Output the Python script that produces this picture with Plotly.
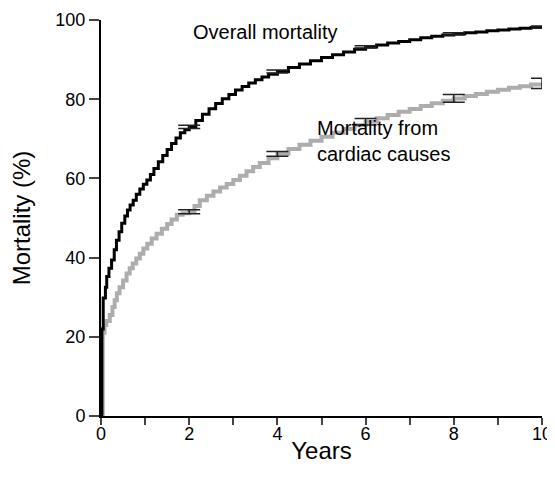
import plotly.graph_objects as go

# Kaplan-Meier style cumulative mortality (%)
overall_years = [0, 0.02, 0.05, 0.10, 0.13, 0.18, 0.24, 0.30, 0.35, 0.41, 0.47, 0.54,
                 0.60, 0.66, 0.73, 0.80, 0.88, 0.96, 1.04, 1.12, 1.20, 1.30, 1.40, 1.50,
                 1.60, 1.70, 1.80, 1.90, 2.00, 2.15, 2.30, 2.45, 2.60, 2.75, 2.90, 3.05,
                 3.20, 3.35, 3.50, 3.65, 3.80, 4.00, 4.25, 4.50, 4.75, 5.00, 5.25, 5.50,
                 5.75, 6.00, 6.25, 6.50, 6.75, 7.00, 7.25, 7.50, 7.75, 8.00, 8.25, 8.50,
                 8.75, 9.00, 9.25, 9.50, 9.75, 10.00]
overall_mort = [0, 22, 29.8, 32.5, 35.2, 37.3, 39.4, 42, 44.4, 46.5, 48.7, 50.5,
                52, 53.3, 54.5, 56, 57.3, 58.5, 59.6, 61, 62.5, 64.2, 65.8, 67.3,
                68.8, 70.2, 71.5, 72.3, 73, 74.6, 76.2, 77.6, 78.9, 80.1, 81.2, 82.3,
                83.2, 84.1, 84.9, 85.6, 86.3, 87, 88, 88.9, 89.7, 90.5, 91.2, 91.9,
                92.6, 93.2, 93.7, 94.2, 94.6, 95, 95.5, 95.9, 96.2, 96.5, 96.8, 97.0,
                97.3, 97.5, 97.7, 97.9, 98.1, 98.2]

cardiac_years = [0, 0.04, 0.08, 0.12, 0.20, 0.26, 0.31, 0.36, 0.42, 0.50, 0.58, 0.65,
                 0.72, 0.80, 0.88, 0.96, 1.05, 1.15, 1.26, 1.38, 1.50, 1.60, 1.72, 1.85,
                 2.00, 2.12, 2.24, 2.40, 2.55, 2.70, 2.85, 3.00, 3.15, 3.30, 3.45, 3.60,
                 3.80, 4.00, 4.25, 4.50, 4.75, 5.00, 5.25, 5.50, 5.75, 6.00, 6.25, 6.50,
                 6.75, 7.00, 7.25, 7.50, 7.75, 8.00, 8.25, 8.50, 8.75, 9.00, 9.25, 9.50,
                 9.75, 10.00]
cardiac_mort = [0, 21, 23, 24, 25.5, 27.5, 29.2, 31, 32.5, 34.2, 36, 37.3,
                38.5, 39.8, 41, 42.3, 43.5, 44.8, 46, 47.3, 48.5, 49.6, 50.8, 51.2,
                51.6, 53, 54.5, 55.6, 56.7, 57.7, 58.6, 59.6, 60.7, 61.8, 62.9, 63.9,
                65.1, 66.2, 67.4, 68.5, 69.5, 70.5, 71.5, 72.5, 73.4, 74.3, 75.2, 76,
                76.8, 77.5, 78.3, 79, 79.6, 80.2, 80.8, 81.3, 81.9, 82.4, 82.9, 83.3,
                83.7, 84]

# error bars (CI half-width) at selected years
err_years = [2, 4, 6, 8, 10]
overall_err_mort = [73, 87, 93.2, 96.5, 98.2]
overall_err = [0.4, 0.4, 0.3, 0.3, 0.3]
cardiac_err_mort = [51.6, 66.2, 74.3, 80.2, 84]
cardiac_err = [0.5, 0.6, 0.8, 1.0, 1.3]

x_ticks = list(range(0, 11))
x_labels = [str(v) if v % 2 == 0 else "" for v in x_ticks]

font = "Liberation Sans, Arial, sans-serif"

fig = go.Figure()

fig.add_trace(go.Scatter(
    x=cardiac_years, y=cardiac_mort, mode="lines", line_shape="hv",
    line=dict(color="#adadad", width=4), name="Cardiac", cliponaxis=False
))
fig.add_trace(go.Scatter(
    x=overall_years, y=overall_mort, mode="lines", line_shape="hv",
    line=dict(color="black", width=3), name="Overall", cliponaxis=False
))
fig.add_trace(go.Scatter(
    x=err_years, y=cardiac_err_mort, mode="markers", marker=dict(size=0.1, color="black"),
    error_y=dict(type="data", array=cardiac_err, color="#222", thickness=1.5, width=11),
    cliponaxis=False
))
fig.add_trace(go.Scatter(
    x=err_years, y=overall_err_mort, mode="markers", marker=dict(size=0.1, color="black"),
    error_y=dict(type="data", array=overall_err, color="#222", thickness=1.5, width=11),
    cliponaxis=False
))

fig.add_annotation(x=3.72, y=97, text="Overall mortality", showarrow=False,
                   xanchor="center", yanchor="middle", font=dict(size=20, color="black"))
fig.add_annotation(x=4.85, y=76, text="Mortality from<br>cardiac causes", showarrow=False,
                   xanchor="left", yanchor="top", align="left",
                   font=dict(size=20, color="black"))

# page body adds an 8px offset, so margins are trimmed on the left/top
fig.update_layout(
    width=555, height=491,
    margin=dict(l=93, r=21, t=12, b=83),
    template="simple_white",
    showlegend=False,
    font=dict(family=font, size=18, color="black"),
    plot_bgcolor="white", paper_bgcolor="white",
    xaxis=dict(
        range=[0, 10], tickvals=x_ticks, ticktext=x_labels, automargin=True,
        ticks="outside", ticklen=7, tickwidth=1.5, linewidth=2, linecolor="black",
        ticklabelstandoff=-7,
        title=dict(text="Years", font=dict(size=24), standoff=0),
        showgrid=False, zeroline=False
    ),
    yaxis=dict(
        range=[0, 100], tickvals=[0, 20, 40, 60, 80, 100], automargin=False,
        ticks="outside", ticklen=10, tickwidth=1.5, linewidth=2, linecolor="black",
        title=dict(text="Mortality (%)", font=dict(size=24), standoff=18),
        showgrid=False, zeroline=False
    ),
)

fig.write_html("out.html")
